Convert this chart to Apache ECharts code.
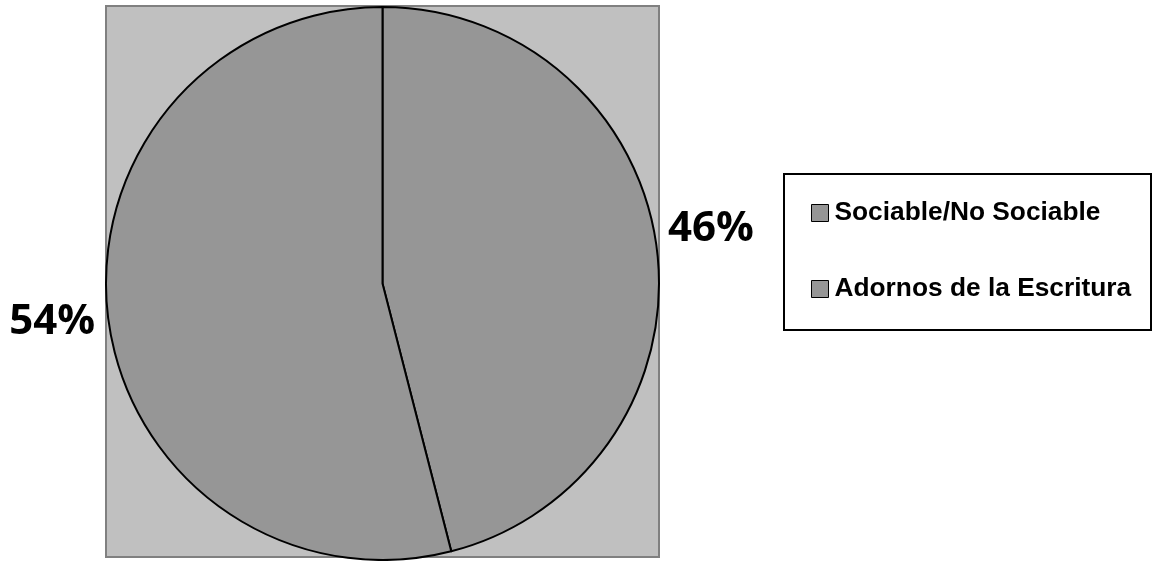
<!DOCTYPE html>
<html>
<head>
<meta charset="utf-8">
<script src="https://cdn.jsdelivr.net/npm/echarts@6/dist/echarts.min.js"></script>
<style>html,body{margin:0;padding:0;background:#fff;}#c{width:1153px;height:561px;}</style>
</head>
<body>
<div id="c"></div>
<script>
const categories = ['Sociable/No Sociable', 'Adornos de la Escritura'];
const values = [46, 54];
const labelTexts = ['46%', '54%'];

const chart = echarts.init(document.getElementById('c'), null, {renderer: 'canvas'});
const sliceColor = '#969696';
const labelPos = [
  {x: 668, y: 229, align: 'left'},
  {x: 95, y: 322, align: 'right'}
];
chart.setOption({
  animation: false,
  backgroundColor: '#ffffff',
  graphic: [
    {type: 'rect', z: 0, shape: {x: 106, y: 6, width: 553, height: 551},
     style: {fill: '#c0c0c0', stroke: '#808080', lineWidth: 2}},
    {type: 'rect', z: 0, shape: {x: 784, y: 174, width: 367, height: 156},
     style: {fill: '#ffffff', stroke: '#000000', lineWidth: 2}}
  ],
  legend: {
    orient: 'vertical',
    left: 811,
    top: 200,
    padding: 0,
    itemWidth: 17,
    itemHeight: 17,
    itemGap: 50,
    icon: 'rect',
    selectedMode: false,
    itemStyle: {borderColor: '#000', borderWidth: 1},
    textStyle: {fontFamily: 'Liberation Sans, Arial, sans-serif', fontWeight: 'bold', fontSize: 26.3, color: '#000', lineHeight: 26, padding: [0,0,0,1]},
    data: categories
  },
  series: [{
    type: 'pie',
    center: [382.5, 283.5],
    radius: 276.5,
    startAngle: 90,
    clockwise: true,
    z: 2,
    itemStyle: {color: sliceColor, borderColor: '#000', borderWidth: 2},
    emphasis: {disabled: true},
    labelLine: {show: false},
    label: {
      show: true,
      position: 'inside',
      overflow: 'none',
      formatter: p => labelTexts[p.dataIndex],
      fontFamily: 'Open Sans, sans-serif',
      fontWeight: 'bold',
      fontSize: 42,
      color: '#000'
    },
    labelLayout: function (params) {
      const p = labelPos[params.dataIndex];
      return {x: p.x, y: p.y, align: p.align, verticalAlign: 'middle'};
    },
    data: categories.map((c, i) => ({name: c, value: values[i]}))
  }]
});
</script>
</body>
</html>
